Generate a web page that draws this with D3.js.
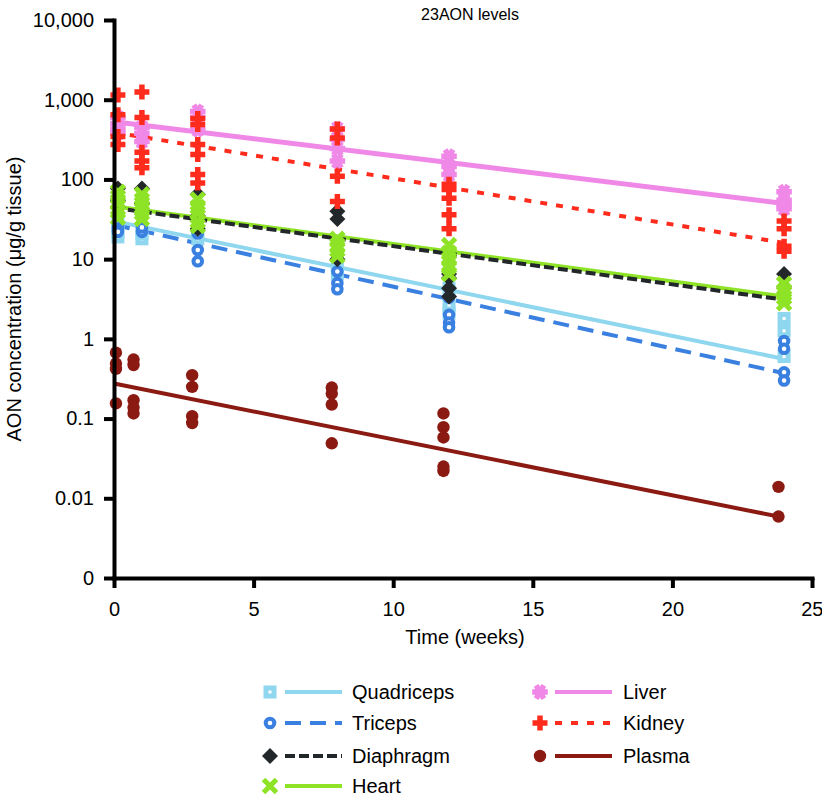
<!DOCTYPE html>
<html>
<head>
<meta charset="utf-8">
<script src="https://cdn.jsdelivr.net/npm/d3@7"></script>
<style>
  body { margin: 0; background: #fff; }
  svg { font-family: "Liberation Sans", Arial, Helvetica, sans-serif; }
</style>
</head>
<body>
<div id="chart"></div>
<script>
// sampling times (weeks)
const tissueWeeks = [0.14, 1, 3, 8, 12, 24];
const plasmaWeeks = [0.07, 0.7, 2.8, 7.8, 11.8, 23.8];

// values per time point (ug/g tissue)
const quadriceps = [[22, 19, 28], [18, 21], [22, 18], [8.6, 6.5], [4.3, 2.6, 2.1], [1.8, 1.26, 0.6]];
const triceps = [[27, 24, 22], [22, 25], [21, 13, 9.4], [7, 5, 4.2], [3.3, 2, 1.6, 1.4], [0.94, 0.75, 0.38, 0.3]];
const diaphragm = [[77, 55, 45], [77, 50, 40], [65, 35, 24], [40, 32, 10], [6.5, 5.8, 4.3, 3.4], [6.5, 4.5]];
const heart = [[70, 60, 50, 40, 33], [65, 55, 45, 38, 32], [56, 45, 38, 30, 26], [18, 15, 13, 11], [15, 12, 10, 8, 6.5], [4.9, 4, 3.3, 2.8]];
const liver = [[600, 500, 430, 380], [450, 380, 300], [710, 600, 420], [430, 320, 245, 170], [195, 145, 115], [70, 55, 48, 43]];
const kidney = [[1150, 650, 345, 275], [1250, 600, 220, 170, 140], [580, 490, 275, 205, 115, 90], [430, 330, 110, 53], [87, 75, 58, 36, 24], [30, 24, 14.5, 12.6]];
const plasma = [[0.67, 0.49, 0.42, 0.155], [0.55, 0.47, 0.17, 0.138, 0.116], [0.35, 0.25, 0.107, 0.088], [0.245, 0.206, 0.15, 0.049], [0.116, 0.078, 0.058, 0.025, 0.022], [0.0139, 0.0059]];

// fitted decay lines: value at start and end week
const seriesNames = ['Quadriceps', 'Triceps', 'Diaphragm', 'Heart', 'Liver', 'Kidney', 'Plasma'];
const fitStart = [30, 27, 44, 46, 530, 390, 0.275];
const fitEnd = [0.56, 0.37, 3.1, 3.4, 50, 16, 0.0059];
const fitEndWeek = [24, 24, 24, 24, 24, 24, 23.8];

const yTicks = [0.001, 0.01, 0.1, 1, 10, 100, 1000, 10000];
const yTickLabels = ['0', '0.01', '0.1', '1', '10', '100', '1,000', '10,000'];
const xTicks = [0, 5, 10, 15, 20, 25];

const colors = ['#8fd6ef', '#3a80e0', '#22272a', '#8fe327', '#ef88e6', '#ff2b1c', '#8a1a12'];
const dashes = [null, '16,9', '10,4', null, null, '7,9', null];
const allData = [quadriceps, triceps, diaphragm, heart, liver, kidney, plasma];
const allWeeks = [tissueWeeks, tissueWeeks, tissueWeeks, tissueWeeks, tissueWeeks, tissueWeeks, plasmaWeeks];
// heart line under diaphragm line, but heart markers over diaphragm markers
const lineOrder = [0, 1, 3, 2, 4, 5, 6];
const pointOrder = [0, 1, 2, 3, 4, 5, 6];

const W = 822, H = 798;
const svg = d3.select('#chart').append('svg').attr('width', W).attr('height', H);

const x = d3.scaleLinear().domain([0, 25]).range([114, 812]);
const y = d3.scaleLog().domain([0.001, 10000]).range([578, 20]);

// markers
function marker(g, i, col) {
  if (i === 0) {
    g.append('rect').attr('x', -6.5).attr('y', -6.5).attr('width', 13).attr('height', 13).attr('fill', col);
    g.append('rect').attr('x', -1.5).attr('y', -1.5).attr('width', 3).attr('height', 3).attr('fill', '#fff');
  } else if (i === 1) {
    g.append('circle').attr('r', 4.3).attr('fill', '#fff').attr('stroke', col).attr('stroke-width', 4);
  } else if (i === 2) {
    g.append('path').attr('d', 'M0,-8L8,0L0,8L-8,0Z').attr('fill', col);
  } else if (i === 3) {
    g.append('path').attr('d', 'M-6.5,-6.5L6.5,6.5M-6.5,6.5L6.5,-6.5').attr('stroke', col).attr('stroke-width', 5).attr('fill', 'none');
  } else if (i === 4) {
    g.append('path').attr('d', d3.symbol(d3.symbolAsterisk, 170)()).attr('transform', 'rotate(90)')
      .attr('stroke', col).attr('stroke-width', 5.5).attr('fill', 'none');
  } else if (i === 5) {
    g.append('path').attr('d', 'M-7.5,0H7.5M0,-7.5V7.5').attr('stroke', col).attr('stroke-width', 5.5).attr('fill', 'none');
  } else {
    g.append('circle').attr('r', 6.2).attr('fill', col);
  }
}

// fit lines
lineOrder.forEach(i => {
  svg.append('line')
    .attr('x1', x(0)).attr('y1', y(fitStart[i]))
    .attr('x2', x(fitEndWeek[i])).attr('y2', y(fitEnd[i]))
    .attr('stroke', colors[i])
    .attr('stroke-width', i === 4 ? 5 : 4)
    .attr('stroke-dasharray', dashes[i]);
});

// points
pointOrder.forEach(i => {
  allData[i].forEach((vals, j) => {
    vals.forEach(v => {
      const g = svg.append('g').attr('transform', `translate(${x(allWeeks[i][j])},${y(v)})`);
      marker(g, i, colors[i]);
    });
  });
});

// axes
const yAxis = d3.axisLeft(y).tickValues(yTicks).tickFormat((d, i) => yTickLabels[i])
  .tickSize(10).tickSizeOuter(0).tickPadding(10);
const gy = svg.append('g').attr('transform', `translate(${x(0)},0)`).call(yAxis);

const xAxis = d3.axisBottom(x).tickValues(xTicks).tickFormat(d3.format('d'))
  .tickSize(10).tickSizeOuter(0).tickPadding(14);
const gx = svg.append('g').attr('transform', `translate(0,${y(0.001)})`).call(xAxis);

[gx, gy].forEach(g => {
  g.select('.domain').attr('stroke', '#000').attr('stroke-width', 4).attr('stroke-linecap', 'square');
  g.selectAll('.tick line').attr('stroke', '#000').attr('stroke-width', 4);
  g.selectAll('.tick text').attr('font-size', 20).attr('fill', '#000')
    .attr('font-family', '"Liberation Sans", Arial, sans-serif');
});
// keep the last x label inside the frame
gx.selectAll('.tick text').filter(d => d === 25).attr('text-anchor', 'end').attr('dx', '0.55em');

// titles
svg.append('text').attr('x', 470).attr('y', 20).attr('text-anchor', 'middle')
  .attr('font-size', 16).text('23AON levels');
svg.append('text').attr('transform', 'translate(21,299) rotate(-90)').attr('text-anchor', 'middle')
  .attr('font-size', 20).text('AON concentration (μg/g tissue)');
svg.append('text').attr('x', 465).attr('y', 644).attr('text-anchor', 'middle')
  .attr('font-size', 20).text('Time (weeks)');

// legend
const legRows = [692, 723, 756, 786];
seriesNames.forEach((name, i) => {
  const col = i < 4 ? 0 : 1;
  const row = i < 4 ? i : i - 4;
  const mx = col === 0 ? 270 : 540;
  const ly = legRows[row];
  const lg = svg.append('g').attr('transform', `translate(${mx},${ly})`);
  lg.append('line').attr('x1', 15).attr('x2', 72).attr('y1', 0).attr('y2', 0)
    .attr('stroke', colors[i]).attr('stroke-width', 4).attr('stroke-dasharray', dashes[i]);
  marker(lg.append('g'), i, colors[i]);
  lg.append('text').attr('x', col === 0 ? 82 : 83).attr('y', 0).attr('dy', '0.36em')
    .attr('font-size', 20).text(name);
});
</script>
</body>
</html>
